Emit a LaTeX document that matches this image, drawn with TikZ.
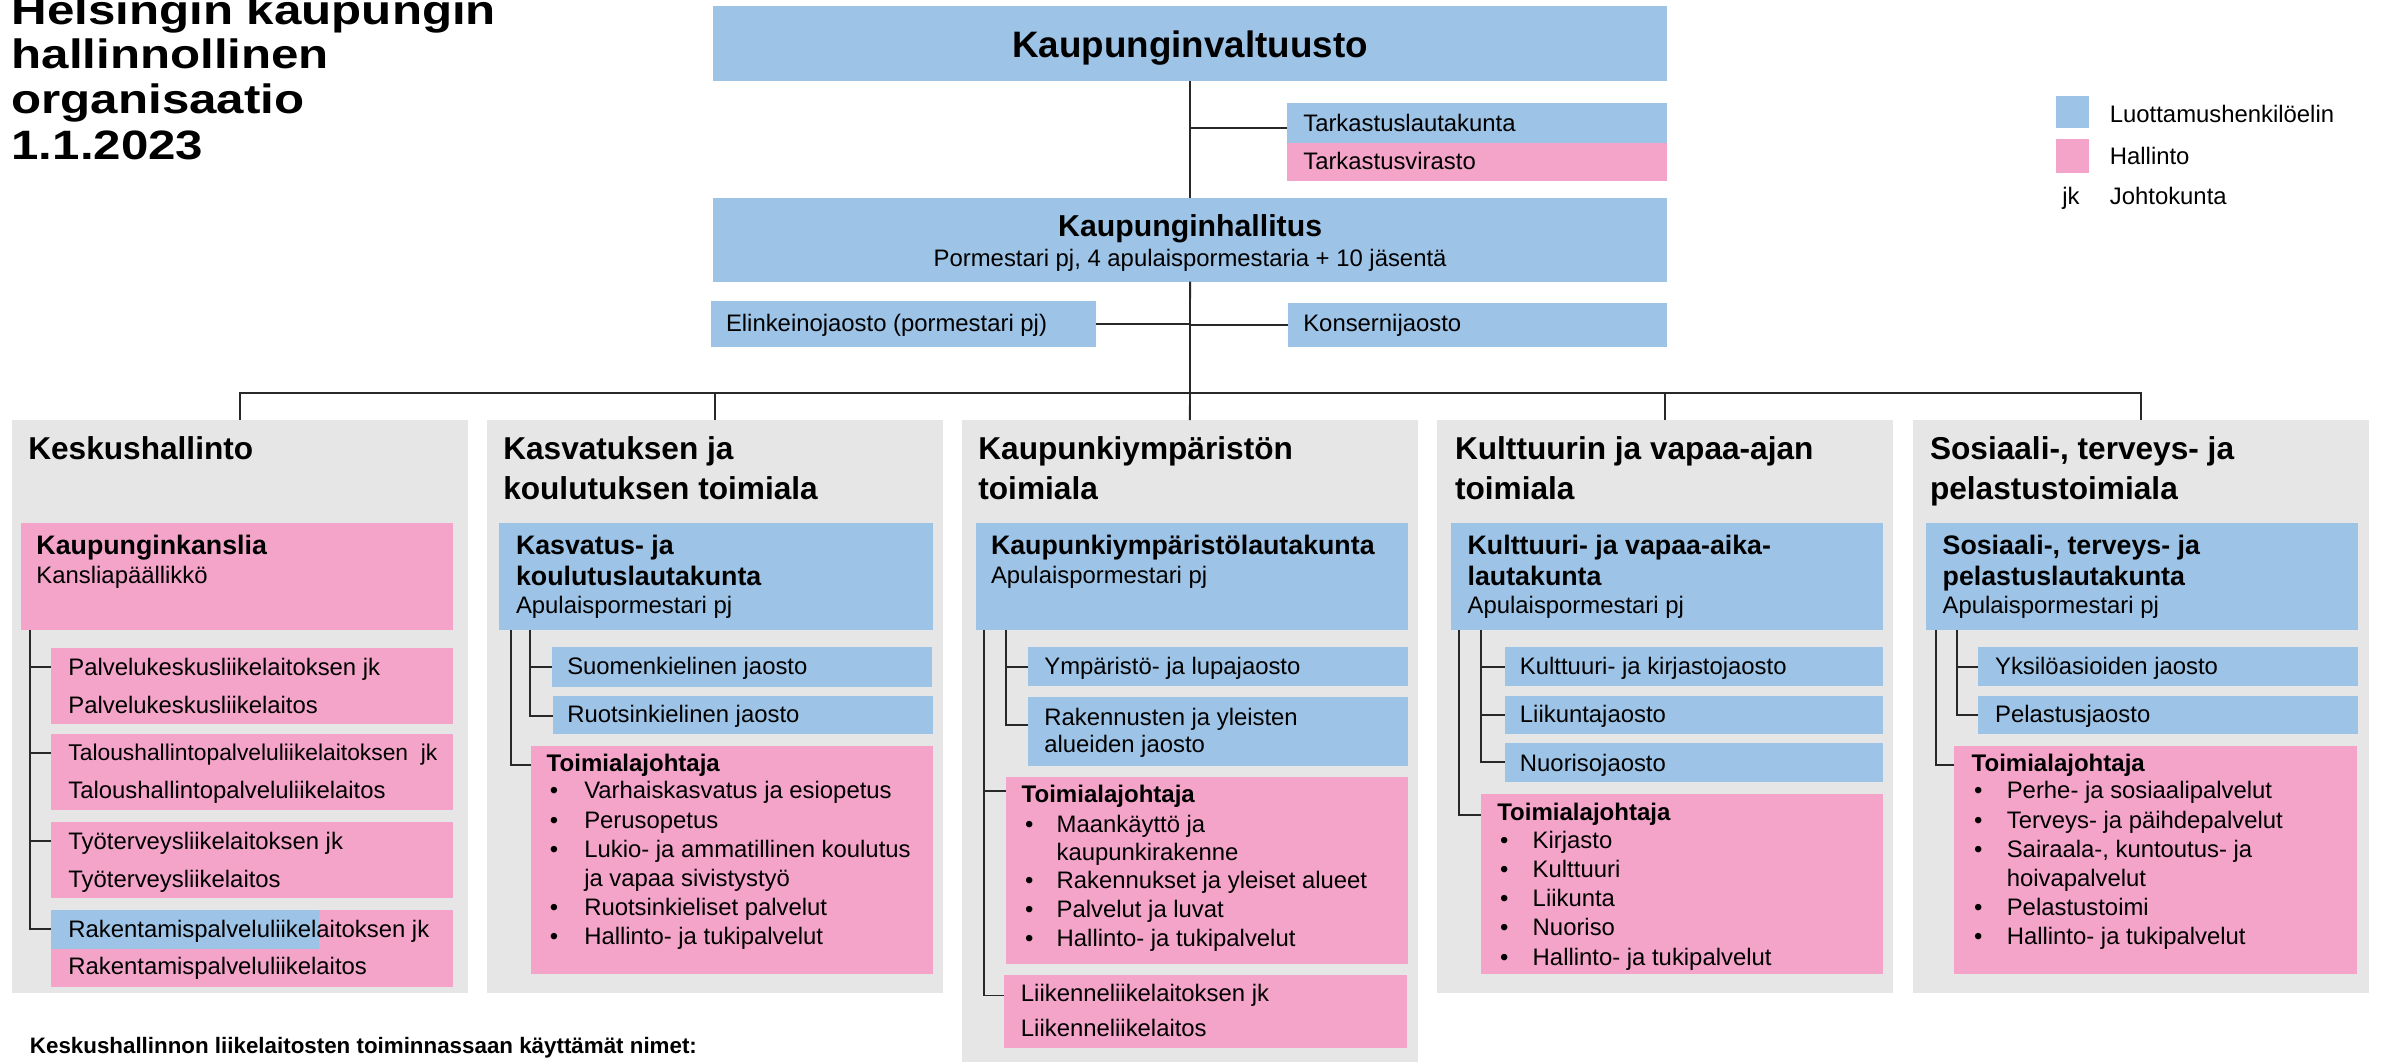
\documentclass[tikz,border=0pt]{standalone}
\usepackage{fontspec}
\setmainfont{Liberation Sans}
\newfontfamily\titlefont{Liberation Sans}[FakeStretch=1.2]
\usetikzlibrary{calc}
\definecolor{cblue}{RGB}{157,195,230}
\definecolor{cpink}{RGB}{244,164,200}
\definecolor{cgray}{RGB}{230,230,230}
\definecolor{cline}{RGB}{40,40,40}
\newcommand\fsN{\fontsize{15.7}{19}\selectfont}
\newcommand\fsB{\fontsize{17.6}{21}\selectfont\bfseries}
\newcommand\fsJ{\fontsize{15.8}{19}\selectfont\bfseries}
\newcommand\fsH{\fontsize{20.8}{26}\selectfont\bfseries}
\newcommand\fsT{\titlefont\fontsize{27}{30}\selectfont\bfseries}
\tikzset{
  box/.style={rectangle, draw=none, inner sep=0pt, outer sep=0pt, anchor=north west},
  txt/.style={inner sep=0pt, outer sep=0pt, anchor=base west, text=black},
  ctxt/.style={inner sep=0pt, outer sep=0pt, anchor=base, text=black},
  conn/.style={draw=cline, line width=1.2pt},
}
\newcommand\bx[6]{\node[box, fill=#2, minimum width={#5-#3}, minimum height={#6-#4}] (#1) at (#3,#4) {};}
\newcommand\tx[5]{\node[txt, font=#2] (#1) at (#3,#4) {#5};}
\newcommand\bi[5]{\node[txt, font=\fsN] (#1b) at (#2,#4) {•};\node[txt, font=\fsN] (#1) at (#3,#4) {#5};}
\begin{document}
\begin{tikzpicture}[x=1pt,y=-1pt]
\useasboundingbox (0,0) rectangle (1568,698);
% title
\tx{ti1}{\fsT}{7.6}{15.8}{Helsingin kaupungin}
\tx{ti2}{\fsT}{7.6}{45.2}{hallinnollinen}
\tx{ti3}{\fsT}{7.6}{74.6}{organisaatio}
\tx{ti4}{\fsT}{7.6}{105}{1.1.2023}
% panels
\bx{P1}{cgray}{7.7}{276.4}{307.7}{653}
\bx{P2}{cgray}{320.3}{276.4}{620.3}{653}
\bx{P3}{cgray}{632.6}{276.4}{932.6}{700}
\bx{P4}{cgray}{945.2}{276.4}{1245.2}{653}
\bx{P5}{cgray}{1258.4}{276.4}{1558.4}{653}
% top
\bx{KV}{cblue}{469}{3.7}{1096.5}{53.3}
\node[ctxt, font=\fontsize{24.2}{28}\selectfont\bfseries] (KVt) at (782.75,37.7) {Kaupunginvaltuusto};
\bx{TL}{cblue}{846.3}{68}{1096.6}{94.3}
\bx{TV}{cpink}{846.3}{94.3}{1096.6}{118.8}
\tx{TLt}{\fsN}{857.2}{86.6}{Tarkastuslautakunta}
\tx{TVt}{\fsN}{857.2}{111.4}{Tarkastusvirasto}
\bx{KH}{cblue}{469}{130.4}{1096.5}{185.3}
\node[ctxt, font=\fontsize{19.9}{24}\selectfont\bfseries] (KHt) at (782.75,155.7) {Kaupunginhallitus};
\node[ctxt, font=\fsN] (KHs) at (782.75,175.4) {Pormestari pj, 4 apulaispormestaria + 10 jäsentä};
\bx{EJ}{cblue}{467.4}{198}{720.7}{228}
\tx{EJt}{\fsN}{477.5}{218.2}{Elinkeinojaosto (pormestari pj)}
\bx{KJ}{cblue}{847.4}{199.1}{1096.6}{228}
\tx{KJt}{\fsN}{857.2}{218.2}{Konsernijaosto}
% legend
\bx{LB}{cblue}{1352.4}{62.9}{1374}{84.4}
\bx{LP}{cpink}{1352.4}{91.6}{1374}{113.6}
\tx{LBt}{\fsN}{1387.7}{80.7}{Luottamushenkilöelin}
\tx{LPt}{\fsN}{1387.7}{108.5}{Hallinto}
\tx{LJ}{\fsN}{1356.4}{134.8}{jk}
\tx{LJt}{\fsN}{1387.7}{134.8}{Johtokunta}
% panel headings
\tx{H1}{\fsH}{18.6}{302}{Keskushallinto}
\tx{H2a}{\fsH}{331}{302}{Kasvatuksen ja}
\tx{H2b}{\fsH}{331}{328.4}{koulutuksen toimiala}
\tx{H3a}{\fsH}{643.5}{302}{Kaupunkiympäristön}
\tx{H3b}{\fsH}{643.5}{328.4}{toimiala}
\tx{H4a}{\fsH}{957}{302}{Kulttuurin ja vapaa-ajan}
\tx{H4b}{\fsH}{957}{328.4}{toimiala}
\tx{H5a}{\fsH}{1269.4}{302}{Sosiaali-, terveys- ja}
\tx{H5b}{\fsH}{1269.4}{328.4}{pelastustoimiala}
% column 1
\bx{K1}{cpink}{13.6}{344}{298}{414.5}
\tx{K1a}{\fsB}{24}{364.5}{Kaupunginkanslia}
\tx{K1b}{\fsN}{24}{384}{Kansliapäällikkö}
\bx{A1}{cpink}{33.3}{426.4}{298}{475.9}
\bx{A2}{cpink}{33.3}{482.5}{298}{532.5}
\bx{A3}{cpink}{33.3}{540.8}{298}{590.8}
\bx{A4}{cpink}{33.3}{598.5}{298}{649.2}
\bx{A4h}{cblue}{33.3}{598.5}{209.8}{624.2}
\tx{A1a}{\fsN}{45}{444.2}{Palvelukeskusliikelaitoksen jk}
\tx{A1b}{\fsN}{45}{469}{Palvelukeskusliikelaitos}
\tx{A2a}{\fontsize{15}{18}\selectfont}{45}{500.3}{Taloushallintopalveluliikelaitoksen\ \ jk}
\tx{A2b}{\fsN}{45}{525.1}{Taloushallintopalveluliikelaitos}
\tx{A3a}{\fsN}{45}{558.6}{Työterveysliikelaitoksen jk}
\tx{A3b}{\fsN}{45}{583.4}{Työterveysliikelaitos}
\tx{A4a}{\fsN}{45}{616.3}{Rakentamispalveluliikelaitoksen jk}
\tx{A4b}{\fsN}{45}{641.1}{Rakentamispalveluliikelaitos}
% column 2
\bx{L2}{cblue}{328.4}{344}{613.9}{414.5}
\tx{L2a}{\fsB}{339.4}{364.5}{Kasvatus- ja}
\tx{L2b}{\fsB}{339.4}{385.3}{koulutuslautakunta}
\tx{L2c}{\fsN}{339.4}{403.4}{Apulaispormestari pj}
\bx{J2a}{cblue}{362.8}{425.6}{612.8}{452}
\tx{J2at}{\fsN}{373.1}{443.6}{Suomenkielinen jaosto}
\bx{J2b}{cblue}{363.5}{457.5}{613.9}{483}
\tx{J2bt}{\fsN}{373.1}{475.5}{Ruotsinkielinen jaosto}
\bx{T2}{cpink}{349}{490.9}{613.9}{640.8}
\tx{T2h}{\fsJ}{359.6}{507.5}{Toimialajohtaja}
\bi{T2i1}{361.7}{384.3}{525.5}{Varhaiskasvatus ja esiopetus}
\bi{T2i2}{361.7}{384.3}{544.7}{Perusopetus}
\bi{T2i3}{361.7}{384.3}{563.9}{Lukio- ja ammatillinen koulutus}
\tx{T2i3c}{\fsN}{384.3}{583.1}{ja vapaa sivistystyö}
\bi{T2i4}{361.7}{384.3}{602.3}{Ruotsinkieliset palvelut}
\bi{T2i5}{361.7}{384.3}{621.5}{Hallinto- ja tukipalvelut}
% column 3
\bx{L3}{cblue}{641.7}{344}{926.3}{414.5}
\tx{L3a}{\fsB}{651.8}{364.5}{Kaupunkiympäristölautakunta}
\tx{L3b}{\fsN}{651.8}{384}{Apulaispormestari pj}
\bx{J3a}{cblue}{675.9}{425.6}{926.3}{450.9}
\tx{J3at}{\fsN}{686.9}{443.6}{Ympäristö- ja lupajaosto}
\bx{J3b}{cblue}{675.9}{458.4}{926.3}{503.6}
\tx{J3bt}{\fsN}{686.9}{477}{Rakennusten ja yleisten}
\tx{J3bu}{\fsN}{686.9}{495}{alueiden jaosto}
\bx{T3}{cpink}{661.5}{510.9}{926.3}{633.9}
\tx{T3h}{\fsJ}{672}{527.5}{Toimialajohtaja}
\bi{T3i1}{674.2}{695}{547.8}{Maankäyttö ja}
\tx{T3i1c}{\fsN}{695}{565.8}{kaupunkirakenne}
\bi{T3i2}{674.2}{695}{584.7}{Rakennukset ja yleiset alueet}
\bi{T3i3}{674.2}{695}{603.3}{Palvelut ja luvat}
\bi{T3i4}{674.2}{695}{622.8}{Hallinto- ja tukipalvelut}
\bx{LL}{cpink}{660.6}{641.4}{925.2}{689.4}
\tx{LLa}{\fsN}{671.5}{658.9}{Liikenneliikelaitoksen jk}
\tx{LLb}{\fsN}{671.5}{682}{Liikenneliikelaitos}
% column 4
\bx{L4}{cblue}{954.2}{344}{1238.7}{414.5}
\tx{L4a}{\fsB}{965.3}{364.5}{Kulttuuri- ja vapaa-aika-}
\tx{L4b}{\fsB}{965.3}{385.3}{lautakunta}
\tx{L4c}{\fsN}{965.3}{403.4}{Apulaispormestari pj}
\bx{J4a}{cblue}{989.9}{425.6}{1238.7}{450.9}
\tx{J4at}{\fsN}{999.7}{443.6}{Kulttuuri- ja kirjastojaosto}
\bx{J4b}{cblue}{989.9}{457.5}{1238.7}{483}
\tx{J4bt}{\fsN}{999.7}{475.5}{Liikuntajaosto}
\bx{J4c}{cblue}{989.9}{488.6}{1238.7}{514.5}
\tx{J4ct}{\fsN}{999.7}{507.5}{Nuorisojaosto}
\bx{T4}{cpink}{973.9}{522}{1238.7}{640.8}
\tx{T4h}{\fsJ}{984.8}{539.5}{Toimialajohtaja}
\bi{T4i1}{986.6}{1008.1}{558}{Kirjasto}
\bi{T4i2}{986.6}{1008.1}{577.2}{Kulttuuri}
\bi{T4i3}{986.6}{1008.1}{596.4}{Liikunta}
\bi{T4i4}{986.6}{1008.1}{615.6}{Nuoriso}
\bi{T4i5}{986.6}{1008.1}{634.8}{Hallinto- ja tukipalvelut}
% column 5
\bx{L5}{cblue}{1266.8}{344}{1551.1}{414.5}
\tx{L5a}{\fsB}{1277.7}{364.5}{Sosiaali-, terveys- ja}
\tx{L5b}{\fsB}{1277.7}{385.3}{pelastuslautakunta}
\tx{L5c}{\fsN}{1277.7}{403.4}{Apulaispormestari pj}
\bx{J5a}{cblue}{1301.2}{425.6}{1551.1}{450.9}
\tx{J5at}{\fsN}{1312.2}{443.6}{Yksilöasioiden jaosto}
\bx{J5b}{cblue}{1301.2}{457.5}{1551.1}{483}
\tx{J5bt}{\fsN}{1312.2}{475.5}{Pelastusjaosto}
\bx{T5}{cpink}{1285.4}{490.9}{1550}{640.8}
\tx{T5h}{\fsJ}{1296.8}{507.5}{Toimialajohtaja}
\bi{T5i1}{1298.4}{1319.9}{525.5}{Perhe- ja sosiaalipalvelut}
\bi{T5i2}{1298.4}{1319.9}{544.7}{Terveys- ja päihdepalvelut}
\bi{T5i3}{1298.4}{1319.9}{563.9}{Sairaala-, kuntoutus- ja}
\tx{T5i3c}{\fsN}{1319.9}{583.1}{hoivapalvelut}
\bi{T5i4}{1298.4}{1319.9}{602.3}{Pelastustoimi}
\bi{T5i5}{1298.4}{1319.9}{621.5}{Hallinto- ja tukipalvelut}
% footer
\tx{FT}{\fontsize{14.7}{17}\selectfont\bfseries}{19.7}{692.6}{Keskushallinnon liikelaitosten toiminnassaan käyttämät nimet:}
% connectors: top
\draw[conn] (KV.south) -- (KH.north);
\draw[conn] (KH.south) -- (P3.north);
\coordinate (tlb) at ([yshift=-2.8pt]TL.west);
\draw[conn] (tlb) -- (tlb -| KV.south);
\draw[conn] (EJ.east) -- (EJ.east -| KV.south);
\draw[conn] (KJ.west) -- (KJ.west -| KV.south);
\draw[conn] (P1.north) -- ++(0,-17.7) -| (P5.north);
\draw[conn] (P2.north) -- ++(0,-17.7);
\draw[conn] (P4.north) -- ++(0,-17.7);
% connectors: column 1
\draw[conn] ([xshift=6.4pt]K1.south west) |- ([yshift=-12.5pt]A1.north west);
\draw[conn] ([xshift=6.4pt]K1.south west) |- ([yshift=-12.5pt]A2.north west);
\draw[conn] ([xshift=6.4pt]K1.south west) |- ([yshift=-12.5pt]A3.north west);
\draw[conn] ([xshift=6.4pt]K1.south west) |- ([yshift=-12.5pt]A4.north west);
% column 2
\draw[conn] ([xshift=7.5pt]L2.south west) |- ([yshift=-12.5pt]T2.north west);
\draw[conn] ([xshift=20.2pt]L2.south west) |- ([yshift=-13pt]J2a.north west);
\draw[conn] ([xshift=20.2pt]L2.south west) |- ([yshift=-13.4pt]J2b.north west);
% column 3
\draw[conn] ([xshift=5.7pt]L3.south west) |- ([yshift=-9.1pt]T3.north west);
\draw[conn] ([xshift=5.7pt]L3.south west) |- ([yshift=-13.3pt]LL.north west);
\draw[conn] ([xshift=20pt]L3.south west) |- ([yshift=-13pt]J3a.north west);
\draw[conn] ([xshift=20pt]L3.south west) |- ([yshift=-18.6pt]J3b.north west);
% column 4
\draw[conn] ([xshift=5.6pt]L4.south west) |- ([yshift=-13.8pt]T4.north west);
\draw[conn] ([xshift=19.9pt]L4.south west) |- ([yshift=-13pt]J4a.north west);
\draw[conn] ([xshift=19.9pt]L4.south west) |- ([yshift=-12.5pt]J4b.north west);
\draw[conn] ([xshift=19.9pt]L4.south west) |- ([yshift=-12.8pt]J4c.north west);
% column 5
\draw[conn] ([xshift=6.6pt]L5.south west) |- ([yshift=-12.5pt]T5.north west);
\draw[conn] ([xshift=20.2pt]L5.south west) |- ([yshift=-13pt]J5a.north west);
\draw[conn] ([xshift=20.2pt]L5.south west) |- ([yshift=-12.5pt]J5b.north west);
\end{tikzpicture}
\end{document}
